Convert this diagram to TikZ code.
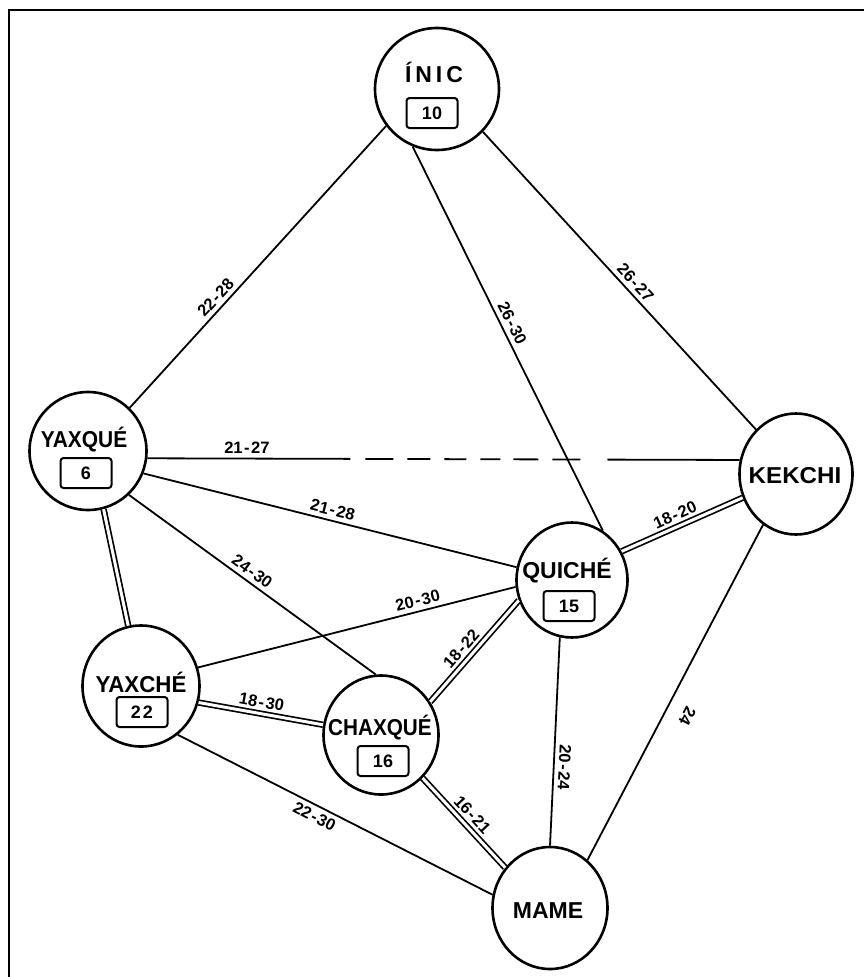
\documentclass[tikz,border=0pt]{standalone}
\usepackage{fontspec}
\setmainfont{Liberation Sans}
\usetikzlibrary{shapes.geometric}
\newcommand\rng[2]{#1\kern1.5pt-\kern1.5pt#2}
\begin{document}
\begin{tikzpicture}[x=1pt,y=-1pt,
  town/.style={ellipse, draw, line width=2.6pt, fill=white, inner sep=0pt},
  nm/.style={font=\fontsize{23}{23}\selectfont\bfseries, inner sep=0pt, anchor=base},
  numbox/.style={draw, line width=2pt, rounded corners=3pt, minimum width=51pt, minimum height=30pt, inner sep=0pt, font=\fontsize{18}{18}\selectfont\bfseries},
  link/.style={line width=1.8pt},
  dlink/.style={line width=1.7pt, double, double distance=3pt},
  lbl/.style={font=\fontsize{16.5}{16.5}\selectfont\bfseries, inner sep=1pt, sloped},
  frame/.style={line width=2pt}]
\useasboundingbox (0,0) rectangle (864,977);
% frame
\coordinate (fbl) at (9,977);
\coordinate (ftl) at (9,10);
\coordinate (ftr) at (864,10);
\draw[frame] (fbl) -- (ftl) -- (ftr);
% towns
\node[town, minimum width=124pt, minimum height=122pt] (inic) at (437,89) {};
\node[town, minimum width=117pt, minimum height=118pt] (yaxque) at (88,451) {};
\node[town, minimum width=113pt, minimum height=121pt] (kekchi) at (796,474) {};
\node[town, minimum width=111pt, minimum height=115pt] (quiche) at (572,580) {};
\node[town, minimum width=117pt, minimum height=121pt] (yaxche) at (141,686) {};
\node[town, minimum width=115pt, minimum height=119pt] (chaxque) at (381,735) {};
\node[town, minimum width=115pt, minimum height=122pt] (mame) at (550,908) {};
% connectors
\draw[link] (yaxque.46) -- node[lbl, pos=0.366, above=3pt] {\rng{22}{28}} (inic.216);
\draw[link] (inic.247) -- node[lbl, pos=0.473, above=3pt] {\rng{26}{30}} (quiche.58);
\draw[link] (inic.-43) -- node[lbl, pos=0.53, above=3pt] {\rng{26}{27}} (kekchi.132);
\draw[link, dash pattern=on 203pt off 15pt on 28pt off 14pt on 23pt off 14pt on 22pt off 14pt on 20pt off 13pt on 25pt off 14pt on 28pt off 27pt on 250pt]
  (yaxque.-7) -- node[lbl, pos=0.168, above=3pt] {\rng{21}{27}} (kekchi.166);
\draw[link] (yaxque.-22) -- node[lbl, pos=0.5, above=3pt] {\rng{21}{28}} (quiche.167);
\draw[link] (yaxque.-47) -- node[lbl, pos=0.474, above=3pt] {\rng{24}{30}} (chaxque.95);
\draw[link] (yaxche.18) -- node[lbl, pos=0.70, above=3pt] {\rng{20}{30}} (quiche.187);
\draw[dlink] (yaxque.-75) -- (yaxche.102);
\draw[dlink] (yaxche.-16) -- node[lbl, pos=0.49, above=4pt] {\rng{18}{30}} (chaxque.170);
\draw[dlink] (chaxque.34) -- node[lbl, pos=0.45, above=4pt] {\rng{18}{22}} (quiche.201);
\draw[dlink] (quiche.30) -- node[lbl, pos=0.48, above=4pt] {\rng{18}{20}} (kekchi.204);
\draw[dlink] (chaxque.-46) -- node[lbl, pos=0.5, above=4pt] {\rng{16}{21}} (mame.138);
\draw[link] (quiche.-102) -- node[lbl, allow upside down, pos=0.62, above=3pt] {\rng{20}{24}} (mame.90);
\draw[link] (kekchi.-123) -- node[lbl, allow upside down, pos=0.54, above=14pt] {24} (mame.52);
\draw[link] (yaxche.-53) -- node[lbl, pos=0.45, below=3pt] {\rng{22}{30}} (mame.167);
% names and numbers
\node[nm] (inicname) at (434,82) {Í\kern4pt N\kern4pt I\kern4pt C};
\node[numbox] (inicnum) at (432,113) {10};
\node[nm] (yaxquename) at (84,447) {\scalebox{0.91}[1]{YAXQUÉ}};
\node[numbox] (yaxquenum) at (86,473) {6};
\node[nm] (yaxchename) at (141,692) {\scalebox{0.97}[1]{YAXCHÉ}};
\node[numbox] (yaxchenum) at (142,712) {2\kern2pt 2};
\node[nm] (chaxquename) at (380,735) {\scalebox{0.9}[1]{CHAXQUÉ}};
\node[numbox] (chaxquenum) at (383,761) {16};
\node[nm] (quichename) at (567,578) {QUICHÉ};
\node[numbox] (quichenum) at (569,606) {15};
\node[nm] (kekchiname) at (795,483) {\scalebox{1.05}[1]{KEKCHI}};
\node[nm] (mamename) at (548,918) {MAME};
\end{tikzpicture}
\end{document}
